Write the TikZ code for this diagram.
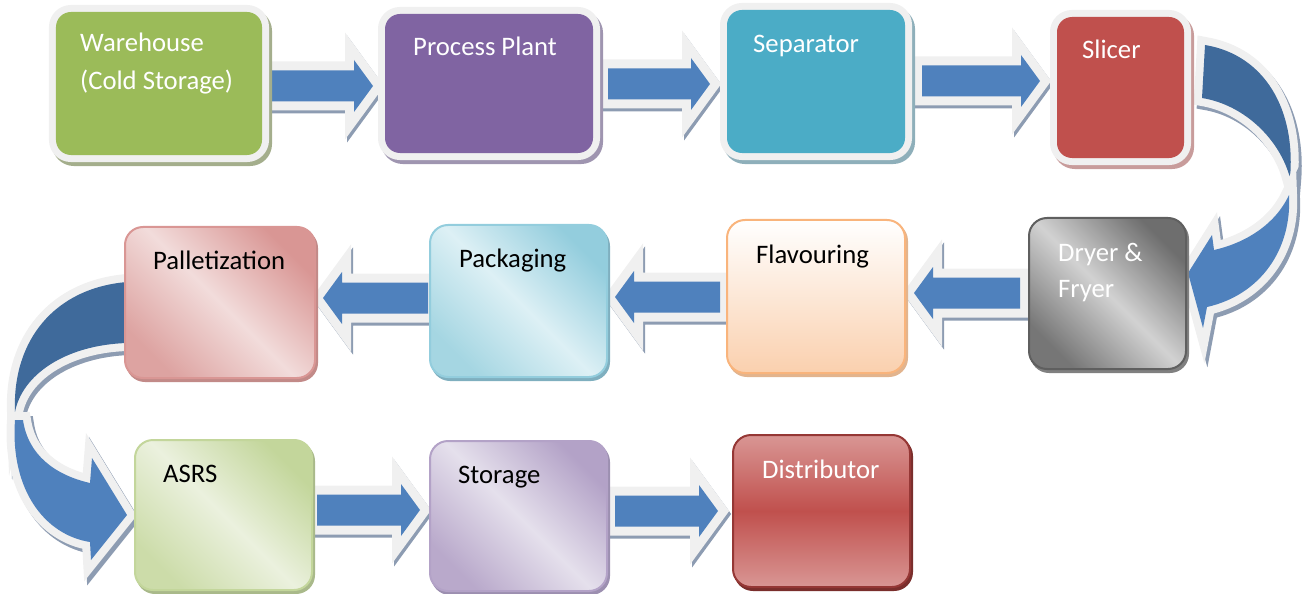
\documentclass[tikz,border=0pt]{standalone}
\usepackage{fontspec}
\setmainfont{Carlito}
\usetikzlibrary{calc}
\pgfdeclarelayer{arrlayer}
\pgfdeclarelayer{boxsh}
\pgfsetlayers{arrlayer,boxsh,main}
\definecolor{arrblue}{HTML}{4F81BD}
\definecolor{arrdark}{HTML}{3F6A9B}
\definecolor{rimwhite}{HTML}{F0F0F0}
\definecolor{arrshadow}{HTML}{8D9CB2}
\definecolor{whcol}{HTML}{9BBB59}\definecolor{whsh}{HTML}{A4AE8C}
\definecolor{ppcol}{HTML}{8064A2}\definecolor{ppsh}{HTML}{9F95B0}
\definecolor{sepcol}{HTML}{4BACC6}\definecolor{sepsh}{HTML}{8EAFBA}
\definecolor{slcol}{HTML}{C0504D}\definecolor{slsh}{HTML}{C89C9B}
\definecolor{drybd}{HTML}{5F5F5F}\definecolor{drysh}{HTML}{808080}
\definecolor{drydk}{HTML}{6E6E6E}\definecolor{drylt}{HTML}{D2D2D2}\definecolor{drydk2}{HTML}{767676}
\definecolor{flabd}{HTML}{F9B47C}\definecolor{flash}{HTML}{E2B48E}\definecolor{flabot}{HTML}{FAD0AE}
\definecolor{pacbd}{HTML}{93CDDD}\definecolor{pacsh}{HTML}{7FAFBF}
\definecolor{pacdk}{HTML}{93CDDD}\definecolor{paclt}{HTML}{DDF0F5}\definecolor{pacdk2}{HTML}{A5D6E2}
\definecolor{palbd}{HTML}{D99694}\definecolor{palsh}{HTML}{C28A88}
\definecolor{paldk}{HTML}{D99694}\definecolor{pallt}{HTML}{F2DCDB}\definecolor{paldk2}{HTML}{DDA3A1}
\definecolor{asbd}{HTML}{C3D69B}\definecolor{assh}{HTML}{A9B98A}
\definecolor{asdk}{HTML}{C3D69B}\definecolor{aslt}{HTML}{EBF1DE}\definecolor{asdk2}{HTML}{CCDCA9}
\definecolor{stbd}{HTML}{B3A2C7}\definecolor{stsh}{HTML}{9C8FB0}
\definecolor{stdk}{HTML}{B3A2C7}\definecolor{stlt}{HTML}{E5E0EC}\definecolor{stdk2}{HTML}{B9A9CB}
\definecolor{disbd}{HTML}{953735}\definecolor{dissh}{HTML}{7A2E2C}
\definecolor{distop}{HTML}{D99694}\definecolor{dismid}{HTML}{C0504D}
\newcommand{\rarrpath}[2]{($(#1)+(0,-15.5)$) -- ($(#2)+(-19,-15.5)$) -- ($(#2)+(-19,-26)$) -- (#2) -- ($(#2)+(-19,26)$) -- ($(#2)+(-19,15.5)$) -- ($(#1)+(0,15.5)$) -- cycle}
\newcommand{\larrpath}[2]{($(#1)+(0,-15.5)$) -- ($(#2)+(19,-15.5)$) -- ($(#2)+(19,-26)$) -- (#2) -- ($(#2)+(19,26)$) -- ($(#2)+(19,15.5)$) -- ($(#1)+(0,15.5)$) -- cycle}
\newcommand{\rblock}[2]{%
  \draw[arrshad] \rarrpath{#1}{#2};
  \draw[arrrim] \rarrpath{#1}{#2};
  \fill[arrblue] \rarrpath{#1}{#2};}
\newcommand{\lblock}[2]{%
  \draw[arrshad] \larrpath{#1}{#2};
  \draw[arrrim] \larrpath{#1}{#2};
  \fill[arrblue] \larrpath{#1}{#2};}
\tikzset{
  arrshad/.style={draw=arrshadow, fill=arrshadow, line width=18bp, line join=miter, transform canvas={shift={(2,3)}}},
  arrrim/.style={draw=rimwhite, line width=18bp, line join=miter},
  curvshad/.style={draw=arrshadow, fill=arrshadow, line width=16bp, line join=miter, transform canvas={shift={(3,4)}}},
  curvrim/.style={draw=rimwhite, line width=16bp, line join=miter},
  topbox/.style={rectangle, rounded corners=15bp, outer sep=0pt, inner sep=0pt, fill=#1, preaction={draw=rimwhite, line width=14bp}},
  topshadow/.style={fill=#1, draw=#1, line width=14bp, rounded corners=15bp},
  gradbox/.style={rectangle, rounded corners=18bp, outer sep=0pt, inner sep=0pt, line width=2bp},
  gradshadow/.style={fill=#1, draw=#1, line width=2bp, rounded corners=18bp},
  lbl/.style={font=\fontsize{26.8}{32}\selectfont, inner sep=0pt, anchor=base west},
}
\begin{document}
\begin{tikzpicture}[x=1bp, y=-1bp]
\useasboundingbox (0,0) rectangle (1307,594);
% ---------- boxes ----------
\node[topbox=whcol, minimum width=206bp, minimum height=143bp] (wh) at (159,83.5) {};
\node[topbox=ppcol, minimum width=208bp, minimum height=139bp] (pp) at (489,83.5) {};
\node[topbox=sepcol, minimum width=178bp, minimum height=143bp] (sep) at (816,81.5) {};
\node[topbox=slcol, minimum width=127bp, minimum height=141bp] (sl) at (1120.5,87.5) {};
\node[gradbox, draw=drybd, top color=drydk, bottom color=drydk2, middle color=drylt, shading angle=-45, minimum width=157bp, minimum height=151bp] (dry) at (1107.5,293.5) {};
\node[gradbox, draw=flabd, top color=white, bottom color=flabot, minimum width=178bp, minimum height=153bp] (fla) at (816,296.5) {};
\node[gradbox, draw=pacbd, top color=pacdk, bottom color=pacdk2, middle color=paclt, shading angle=-45, minimum width=177bp, minimum height=152bp] (pac) at (518.5,301) {};
\node[gradbox, draw=palbd, top color=paldk, bottom color=paldk2, middle color=pallt, shading angle=-45, minimum width=190bp, minimum height=151bp] (pal) at (220,302.5) {};
\node[gradbox, draw=asbd, top color=asdk, bottom color=asdk2, middle color=aslt, shading angle=-45, minimum width=177bp, minimum height=150bp] (asrs) at (223.5,515) {};
\node[gradbox, draw=stbd, top color=stdk, bottom color=stdk2, middle color=stlt, shading angle=-45, minimum width=177bp, minimum height=150bp] (sto) at (518.5,516) {};
\node[gradbox, draw=disbd, top color=distop, bottom color=distop, middle color=dismid, minimum width=177bp, minimum height=152bp] (dis) at (821.5,511) {};
% ---------- box shadows ----------
\begin{pgfonlayer}{boxsh}
\draw[topshadow=whsh] ([shift={(3,4)}]wh.south west) rectangle ([shift={(3,4)}]wh.north east);
\draw[topshadow=ppsh] ([shift={(3,4)}]pp.south west) rectangle ([shift={(3,4)}]pp.north east);
\draw[topshadow=sepsh] ([shift={(3,4)}]sep.south west) rectangle ([shift={(3,4)}]sep.north east);
\draw[topshadow=slsh] ([shift={(3,4)}]sl.south west) rectangle ([shift={(3,4)}]sl.north east);
\draw[gradshadow=drysh] ([shift={(2,3)}]dry.south west) rectangle ([shift={(2,3)}]dry.north east);
\draw[gradshadow=flash] ([shift={(2,3)}]fla.south west) rectangle ([shift={(2,3)}]fla.north east);
\draw[gradshadow=pacsh] ([shift={(2,3)}]pac.south west) rectangle ([shift={(2,3)}]pac.north east);
\draw[gradshadow=palsh] ([shift={(2,3)}]pal.south west) rectangle ([shift={(2,3)}]pal.north east);
\draw[gradshadow=assh] ([shift={(2,3)}]asrs.south west) rectangle ([shift={(2,3)}]asrs.north east);
\draw[gradshadow=stsh] ([shift={(2,3)}]sto.south west) rectangle ([shift={(2,3)}]sto.north east);
\draw[gradshadow=dissh] ([shift={(2,3)}]dis.south west) rectangle ([shift={(2,3)}]dis.north east);
\end{pgfonlayer}
% ---------- labels ----------
\node[lbl, text=white] (whA) at (80,52) {Warehouse};
\node[lbl, text=white] (whB) at (80,90) {(Cold Storage)};
\node[lbl, text=white] (ppA) at (413,56) {Process Plant};
\node[lbl, text=white] (sepA) at (753,53) {Separator};
\node[lbl, text=white] (slA) at (1082,59) {Slicer};
\node[lbl, text=white] (dryA) at (1058,261) {Dryer \&};
\node[lbl, text=white] (dryB) at (1058,297) {Fryer};
\node[lbl, text=black] (flaA) at (756,263) {Flavouring};
\node[lbl, text=black] (pacA) at (459,267) {Packaging};
\node[lbl, text=black] (palA) at (153,269) {Palletization};
\node[lbl, text=black] (asA) at (163,482) {ASRS};
\node[lbl, text=black] (stA) at (458,483) {Storage};
\node[lbl, text=white] (disA) at (762,478) {Distributor};
% ---------- arrow anchor coordinates ----------
\coordinate (y1) at (0,86); \coordinate (y2) at (0,84); \coordinate (y3) at (0,81);
\coordinate (y4) at (0,293); \coordinate (y5) at (0,297); \coordinate (y6) at (0,298);
\coordinate (y7) at (0,510); \coordinate (y8) at (0,511);
\coordinate (a1s) at ($(wh.east |- y1)+(8,0)$);   \coordinate (a1e) at ($(pp.west |- y1)+(-12,0)$);
\coordinate (a2s) at ($(pp.east |- y2)+(15,0)$);  \coordinate (a2e) at ($(sep.west |- y2)+(-17,0)$);
\coordinate (a3s) at ($(sep.east |- y3)+(17,0)$); \coordinate (a3e) at ($(sl.west |- y3)+(-17,0)$);
\coordinate (a4s) at ($(dry.west |- y4)+(-9,0)$); \coordinate (a4e) at ($(fla.east |- y4)+(9,0)$);
\coordinate (a5s) at ($(fla.west |- y5)+(-7,0)$); \coordinate (a5e) at ($(pac.east |- y5)+(8,0)$);
\coordinate (a6s) at ($(pac.west |- y6)+(-2,0)$); \coordinate (a6e) at ($(pal.east |- y6)+(8,0)$);
\coordinate (a7s) at ($(asrs.east |- y7)+(5,0)$); \coordinate (a7e) at ($(sto.west |- y7)+(-10,0)$);
\coordinate (a8s) at ($(sto.east |- y8)+(8,0)$);  \coordinate (a8e) at ($(dis.west |- y8)+(-15,0)$);
% ---------- arrows ----------
\begin{pgfonlayer}{arrlayer}
\rblock{a1s}{a1e}
\rblock{a2s}{a2e}
\rblock{a3s}{a3e}
\lblock{a4s}{a4e}
\lblock{a5s}{a5e}
\lblock{a6s}{a6e}
\rblock{a7s}{a7e}
\rblock{a8s}{a8e}
% right curved arrow: Slicer -> Dryer & Fryer
\def\rcdark{(1205,45) .. controls (1265,55) and (1296,110) .. (1290,178) .. controls (1280,140) and (1245,105) .. (1202,98) -- cycle}
\def\rclight{(1289,195) .. controls (1292,250) and (1260,295) .. (1207,307) -- (1203,328) -- (1188,273) -- (1212,235) -- (1214,250) .. controls (1245,243) and (1275,225) .. (1289,195) -- cycle}
\draw[curvshad] \rcdark;
\draw[curvrim] \rcdark;
\fill[arrdark] \rcdark;
\draw[curvshad] \rclight;
\draw[curvrim] \rclight;
\fill[arrblue] \rclight;
% left curved arrow: Palletization -> ASRS
\def\lcdark{(127,282) .. controls (55,288) and (12,340) .. (15,412) .. controls (22,375) and (65,345) .. (127,343) -- cycle}
\def\lclight{(15,420) .. controls (10,490) and (45,535) .. (90,542) -- (91,560) -- (127,515) -- (92,458) -- (90,483) .. controls (55,475) and (28,455) .. (23,420) -- cycle}
\draw[curvshad] \lcdark;
\draw[curvrim] \lcdark;
\fill[arrdark] \lcdark;
\draw[curvshad] \lclight;
\draw[curvrim] \lclight;
\fill[arrblue] \lclight;
\end{pgfonlayer}
\end{tikzpicture}
\end{document}
